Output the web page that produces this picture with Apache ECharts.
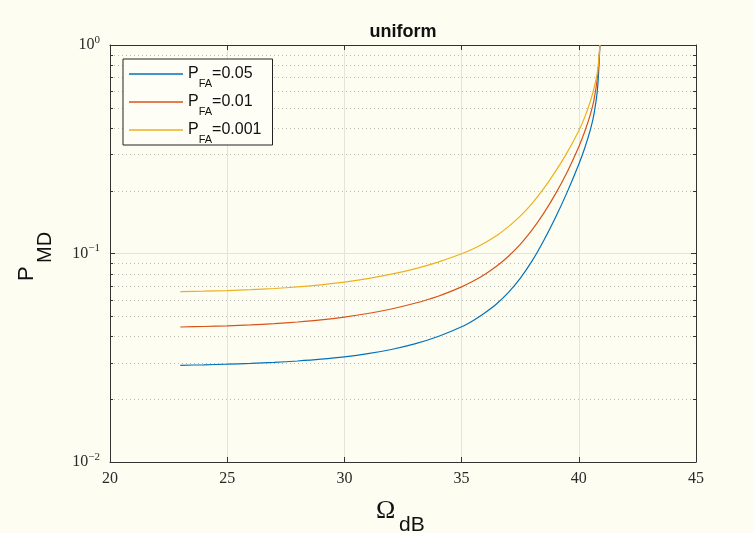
<!DOCTYPE html>
<html><head><meta charset="utf-8">
<script src="https://cdn.jsdelivr.net/npm/echarts@6/dist/echarts.min.js"></script>
<style>html,body{margin:0;padding:0;background:#fefdf2}#c{width:754px;height:533px}</style>
</head><body><div id="c"></div><script>
// ---- data ----
const omegaDB   = [23, 24, 25, 26, 27, 28, 29, 30, 31, 32, 33, 34, 35, 35.5, 36, 36.5, 37, 37.5, 38, 38.5, 39, 39.5, 40, 40.25, 40.5, 40.65, 40.8, 40.9];
const pmdFA005  = [0.02910, 0.02926, 0.02945, 0.02971, 0.03004, 0.03051, 0.03112, 0.03193, 0.03307, 0.03464, 0.03685, 0.03999, 0.04450, 0.04777, 0.05201, 0.05744, 0.06507, 0.07596, 0.09186, 0.1152, 0.1485, 0.1964, 0.2681, 0.3199, 0.3950, 0.4677, 0.6199, 1.0];
const pmdFA001  = [0.04441, 0.04466, 0.04500, 0.04545, 0.04606, 0.04693, 0.04803, 0.04954, 0.05155, 0.05418, 0.05770, 0.06240, 0.06917, 0.07373, 0.07956, 0.08711, 0.09706, 0.1106, 0.1294, 0.1557, 0.1926, 0.2454, 0.3253, 0.3834, 0.4677, 0.5472, 0.7077, 1.0];
const pmdFA0001 = [0.06558, 0.06595, 0.06639, 0.06706, 0.06795, 0.06917, 0.07077, 0.07292, 0.07580, 0.07956, 0.08445, 0.09096, 0.09967, 0.1054, 0.1127, 0.1220, 0.1345, 0.1510, 0.1735, 0.2046, 0.2468, 0.3045, 0.3881, 0.4495, 0.5400, 0.6213, 0.7487, 1.0];
const seriesNames = ['PFA=0.05', 'PFA=0.01', 'PFA=0.001'];
const pfaLabels   = ['0.05', '0.01', '0.001'];
const seriesColors = ['#0072BD', '#D95319', '#EDB120'];
const xTickInterval = 5;
const xRange = [20, 45];
const yRange = [0.01, 1];
const minorDecades = [-2, -1];
const minorMultipliers = [2, 3, 4, 5, 6, 7, 8, 9];

const minorY = [];
minorDecades.forEach(e => minorMultipliers.forEach(k => minorY.push(+(k * Math.pow(10, e)).toPrecision(3))));

const allSeries = [pmdFA005, pmdFA001, pmdFA0001];
const axisColor = '#333';
const bg = '#fefdf2';

const chart = echarts.init(document.getElementById('c'), null, {renderer: 'canvas'});
const option = {
  animation: false,
  backgroundColor: bg,
  grid: {left: 110, right: 58, top: 45, bottom: 71, containLabel: false},
  xAxis: [
    {type: 'value', min: xRange[0], max: xRange[1], interval: xTickInterval, position: 'bottom',
     axisLine: {show: true, onZero: false, lineStyle: {color: axisColor, width: 1}},
     axisTick: {show: true, inside: true, length: 5, lineStyle: {color: axisColor}},
     axisLabel: {margin: 9, fontFamily: 'Liberation Serif', fontSize: 16, color: '#2a2a2a'},
     splitLine: {show: true, lineStyle: {color: '#e4e4dc', width: 1}}},
    {type: 'value', min: xRange[0], max: xRange[1], interval: xTickInterval, position: 'top',
     axisLine: {show: true, onZero: false, lineStyle: {color: axisColor, width: 1}},
     axisTick: {show: true, inside: true, length: 5, lineStyle: {color: axisColor}},
     axisLabel: {show: false}, splitLine: {show: false}}
  ],
  yAxis: [
    {type: 'log', logBase: 10, min: yRange[0], max: yRange[1], position: 'left',
     axisLine: {show: true, onZero: false, lineStyle: {color: axisColor, width: 1}},
     axisTick: {show: true, inside: true, length: 5, lineStyle: {color: axisColor}},
     axisLabel: {margin: 10, color: '#2a2a2a',
       formatter: v => { const e = Math.round(Math.log10(v)); return '{b|10}{s|' + (e < 0 ? '\u2212' + (-e) : e) + '}'; },
       rich: {
         b: {fontFamily: 'Liberation Serif', fontSize: 16, color: '#2a2a2a'},
         s: {fontFamily: 'Liberation Serif', fontSize: 11, color: '#2a2a2a', verticalAlign: 'top', padding: [0, 0, 10, 0]}
       }},
     splitLine: {show: true, lineStyle: {color: '#e4e4dc', width: 1}}},
    {type: 'log', logBase: 10, min: yRange[0], max: yRange[1], position: 'right',
     axisLine: {show: true, onZero: false, lineStyle: {color: axisColor, width: 1}},
     axisTick: {show: true, inside: true, length: 5, lineStyle: {color: axisColor}},
     axisLabel: {show: false}, splitLine: {show: false}}
  ],
  legend: {
    data: seriesNames, orient: 'vertical', left: 123, top: 59,
    padding: [7, 11, 0, 6], itemGap: 5, itemWidth: 54, itemHeight: 14,
    icon: 'path://M0,0 L54,0 L54,1.3 L0,1.3 Z',
    borderColor: '#222', borderWidth: 1, backgroundColor: '#fffef6', selectedMode: false,
    formatter: name => { const i = seriesNames.indexOf(name); return '{p|P}{s|FA}{p|=' + pfaLabels[i] + '}'; },
    textStyle: {fontFamily: 'Liberation Sans', color: '#111', fontSize: 16,
      rich: {
        p: {fontFamily: 'Liberation Sans', fontSize: 16, lineHeight: 30, color: '#111'},
        s: {fontFamily: 'Liberation Sans', fontSize: 11, verticalAlign: 'bottom', color: '#111'}
      }}
  },
  graphic: [
    {type: 'text', x: 403, y: 32, z: 10, style: {text: 'uniform', font: 'bold 18px "Liberation Sans"', fill: '#111', align: 'center', verticalAlign: 'middle', textAlign: 'center', textVerticalAlign: 'middle'}},
    {type: 'text', x: 376, y: 511, z: 10, style: {text: '\u03A9', font: '26px "Liberation Serif"', fill: '#111', align: 'left', verticalAlign: 'middle', textAlign: 'left', textVerticalAlign: 'middle'}},
    {type: 'text', x: 399, y: 525, z: 10, style: {text: 'dB', font: '21px "Liberation Sans"', fill: '#111', align: 'left', verticalAlign: 'middle', textAlign: 'left', textVerticalAlign: 'middle'}},
    {type: 'text', x: 27, y: 281, rotation: Math.PI / 2, z: 10, style: {text: 'P', font: '22px "Liberation Sans"', fill: '#111', align: 'left', verticalAlign: 'middle', textAlign: 'left', textVerticalAlign: 'middle'}},
    {type: 'text', x: 45.5, y: 263, rotation: Math.PI / 2, z: 10, style: {text: 'MD', font: '20px "Liberation Sans"', fill: '#111', align: 'left', verticalAlign: 'middle', textAlign: 'left', textVerticalAlign: 'middle'}}
  ],
  series: [
    {type: 'custom', name: 'minor', coordinateSystem: 'cartesian2d', xAxisIndex: 0, yAxisIndex: 0, silent: true, z: 1,
     data: minorY.map(v => [xRange[0], v]),
     renderItem: (params, api) => {
       const v = api.value(1);
       const p0 = api.coord([xRange[0], v]);
       const p1 = api.coord([xRange[1], v]);
       const y = Math.round(p0[1]) + 0.5;
       return {type: 'group', children: [
         {type: 'line', shape: {x1: p0[0], y1: y, x2: p1[0], y2: y}, style: {stroke: '#bcbcb4', lineWidth: 1, lineDash: [1, 3]}},
         {type: 'line', shape: {x1: p0[0], y1: y, x2: p0[0] + 3, y2: y}, style: {stroke: axisColor, lineWidth: 1}},
         {type: 'line', shape: {x1: p1[0] - 3, y1: y, x2: p1[0], y2: y}, style: {stroke: axisColor, lineWidth: 1}}
       ]};
     }}
  ].concat(allSeries.map((arr, i) => ({
    type: 'line', name: seriesNames[i], xAxisIndex: 0, yAxisIndex: 0, z: 3,
    data: omegaDB.map((x, j) => [x, arr[j]]),
    symbol: 'none', showSymbol: false, smooth: 0.3,
    lineStyle: {width: 1.2, color: seriesColors[i]}, itemStyle: {color: seriesColors[i]}
  })))
};
chart.setOption(option);
</script></body></html>
